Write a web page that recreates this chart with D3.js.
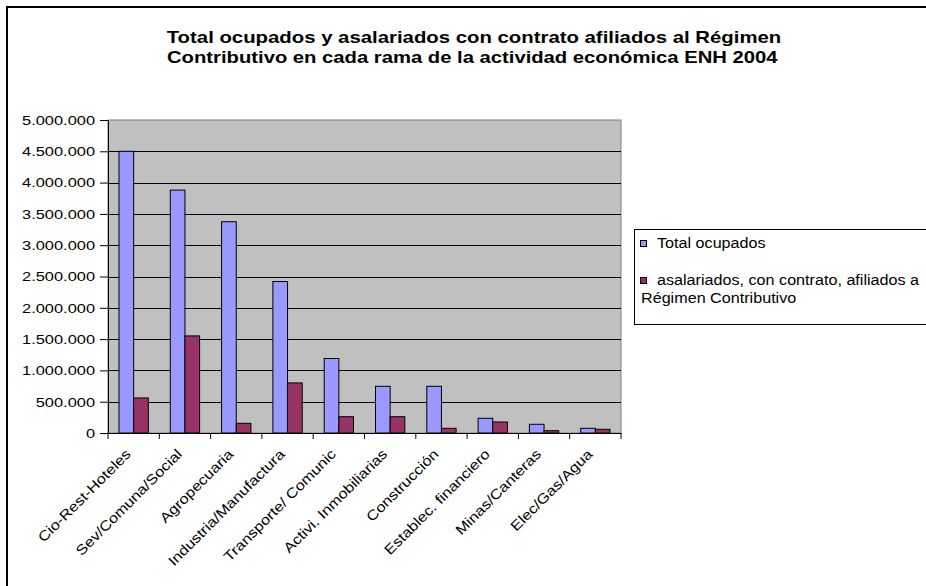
<!DOCTYPE html>
<html>
<head>
<meta charset="utf-8">
<script src="https://cdn.jsdelivr.net/npm/d3@7"></script>
<style>
  body { margin: 0; background: #fff; }
  svg { display: block; font-family: 'Liberation Sans', Arial, sans-serif; }
</style>
</head>
<body>
<div id="chart"></div>
<script>
// categories and series
var categories = [
  'Cio-Rest-Hoteles',
  'Sev/Comuna/Social',
  'Agropecuaria',
  'Industria/Manufactura',
  'Transporte/ Comunic',
  'Activi. Inmobiliarias',
  'Construcción',
  'Establec. financiero',
  'Minas/Canteras',
  'Elec/Gas/Agua',
];
var totalOcupados = [4500000, 3880000, 3375000, 2420000, 1190000, 746000, 746000, 235000, 139000, 75000];
var asalariados = [560000, 1551000, 155000, 800000, 260000, 260000, 75000, 176000, 37000, 59000];
var seriesNames = ['Total ocupados', 'asalariados, con contrato, afiliados a|Régimen Contributivo'];
var seriesColors = ['#9999ff', '#993366'];
var yTicks = [0, 500000, 1000000, 1500000, 2000000, 2500000, 3000000, 3500000, 4000000, 4500000, 5000000];
var titleLines = [
  'Total ocupados y asalariados con contrato afiliados al Régimen',
  'Contributivo en cada rama de la actividad económica ENH 2004',
];

const W = 926;
const H = 586;
const plot = { left: 108, top: 120, right: 621, bottom: 433 };

// the original chart uses wide glyphs, so text is stretched sideways to fit
function widthScale(node, target) {
  var len = node.getComputedTextLength();
  return len > 0 ? target / len : 1;
}

var svg = d3.select('#chart').append('svg').attr('width', W).attr('height', H);

// outer chart frame (runs off the right and bottom edges)
svg.append('rect')
  .attr('x', 7).attr('y', 7)
  .attr('width', W + 20).attr('height', H + 20)
  .attr('fill', '#fff')
  .attr('stroke', '#000')
  .attr('stroke-width', 2);

// title
var titleX = [166.7, 167];
var titleW = [615, 611];
svg.selectAll('text.title')
  .data(titleLines)
  .enter()
  .append('text')
  .attr('class', 'title')
  .style('font-weight', 'bold')
  .style('font-size', '16.5px')
  .text((d) => d)
  .attr('transform', function (d, i) {
    var k = widthScale(this, titleW[i]);
    return `translate(${titleX[i]},${43 + i * 20}) scale(${k},1)`;
  });

var x0 = d3.scaleBand().domain(categories).range([plot.left, plot.right]).padding(0);
var bw = x0.bandwidth();
var barW = bw / 3.5;
var x1 = d3.scaleBand().domain([0, 1]).range([0, barW * 2]);

var y = d3.scaleLinear().domain([0, 5000000]).range([plot.bottom, plot.top]);

// plot background
svg.append('rect')
  .attr('x', plot.left).attr('y', plot.top)
  .attr('width', plot.right - plot.left).attr('height', plot.bottom - plot.top)
  .attr('fill', '#c0c0c0')
  .attr('stroke', '#808080')
  .attr('stroke-width', 1);

// gridlines
svg.selectAll('line.grid')
  .data(yTicks.filter((d) => d > 0 && d < 5000000))
  .enter()
  .append('line')
  .attr('class', 'grid')
  .attr('x1', plot.left).attr('x2', plot.right)
  .attr('y1', (d) => Math.round(y(d)) + 0.5)
  .attr('y2', (d) => Math.round(y(d)) + 0.5)
  .attr('stroke', '#000')
  .attr('stroke-width', 1);

// bars
var groups = svg.selectAll('g.cat')
  .data(categories)
  .enter()
  .append('g')
  .attr('class', 'cat')
  .attr('transform', (d) => `translate(${x0(d) + barW * 0.75},0)`);

groups.selectAll('rect')
  .data((d, i) => [totalOcupados[i], asalariados[i]])
  .enter()
  .append('rect')
  .attr('x', (d, j) => x1(j))
  .attr('y', (d) => y(d))
  .attr('width', x1.bandwidth())
  .attr('height', (d) => plot.bottom - y(d))
  .attr('fill', (d, j) => seriesColors[j])
  .attr('stroke', '#000')
  .attr('stroke-width', 1);

// y axis
var yAxis = d3.axisLeft(y)
  .tickValues(yTicks)
  .tickSize(8)
  .tickPadding(5)
  .tickFormat((d) => d3.format(',')(d).replace(/,/g, '.'));

var yG = svg.append('g').attr('transform', `translate(${plot.left},0)`).call(yAxis);
yG.select('.domain').attr('stroke', '#000');
var yLabels = yG.selectAll('text')
  .attr('fill', '#000')
  .style('font-family', "'Liberation Sans', Arial, sans-serif")
  .style('font-size', '13.5px');
// "5.000.000" is about 73px wide in the original
var yK = widthScale(yLabels.filter((d) => d == 5000000).node(), 73);
yLabels.attr('x', -13 / yK).attr('transform', `scale(${yK},1)`);

// x axis
var xAxis = d3.axisBottom(x0).tickSize(0).tickFormat('');
var xG = svg.append('g').attr('transform', `translate(0,${plot.bottom})`).call(xAxis);
xG.select('.domain').attr('stroke', '#000');

svg.selectAll('line.xtick')
  .data(categories.concat(['end']))
  .enter()
  .append('line')
  .attr('class', 'xtick')
  .attr('x1', (d, i) => plot.left + i * bw)
  .attr('x2', (d, i) => plot.left + i * bw)
  .attr('y1', plot.bottom)
  .attr('y2', plot.bottom + 6)
  .attr('stroke', '#000');

var xLabels = svg.selectAll('text.xlabel')
  .data(categories)
  .enter()
  .append('text')
  .attr('class', 'xlabel')
  .attr('text-anchor', 'end')
  .style('font-size', '14px')
  .text((d) => d);
// "Industria/Manufactura" runs about 158px along its slant
var xK = widthScale(xLabels.filter((d) => d == 'Industria/Manufactura').node(), 158);
xLabels.attr('transform', (d) => `translate(${x0(d) + bw / 2 - 2},455) rotate(-45) scale(${xK},1)`);

// legend
var legend = svg.append('g');
legend.append('rect')
  .attr('x', 634.5).attr('y', 229.5)
  .attr('width', 320).attr('height', 95)
  .attr('fill', '#fff')
  .attr('stroke', '#000');

var legendY = [240, 277];
var legendTexts = [];
seriesNames.forEach((name, i) => {
  legend.append('rect')
    .attr('x', 640.5).attr('y', legendY[i] + 0.5)
    .attr('width', 6).attr('height', 6)
    .attr('fill', seriesColors[i])
    .attr('stroke', '#000');
  name.split('|').forEach((line, k) => {
    var t = legend.append('text')
      .datum({ x: k == 0 ? 657 : 641, y: legendY[i] + 7.5 + k * 18.3 })
      .style('font-size', '15px')
      .text(line);
    legendTexts.push(t);
  });
});
// "Total ocupados" is about 108.7px wide in the original
var lK = widthScale(legendTexts[0].node(), 108.7);
legendTexts.forEach((t) => {
  t.attr('transform', (d) => `translate(${d.x},${d.y}) scale(${lK},1)`);
});
</script>
</body>
</html>
